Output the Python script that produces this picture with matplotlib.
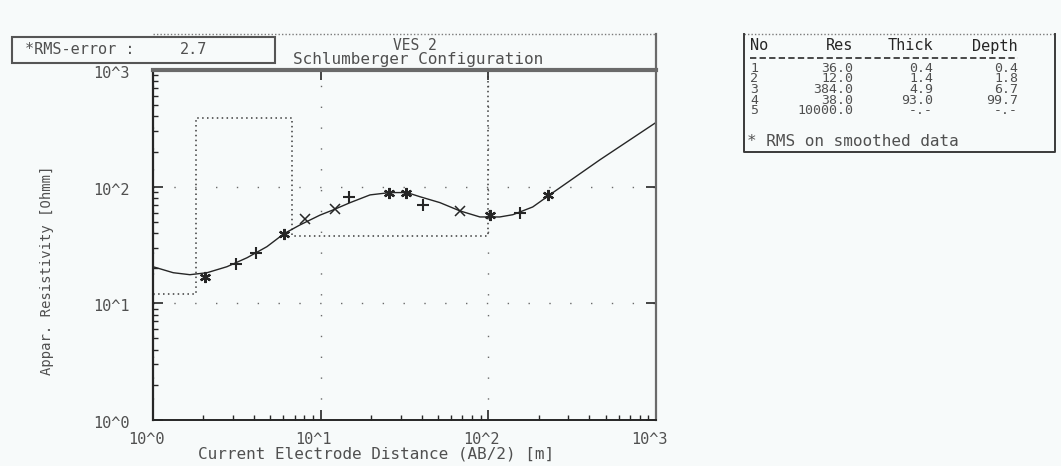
import numpy as np
import matplotlib
matplotlib.use("Agg")
import matplotlib.pyplot as plt
from matplotlib.lines import Line2D
from matplotlib.patches import Rectangle
from matplotlib.transforms import ScaledTranslation

# model curve (AB/2 in m, apparent resistivity in Ohmm)
curve_ab = [1.0, 1.32, 1.66, 2.10, 2.76, 3.64, 4.78, 6.04, 7.53, 9.9, 11.8, 15.0,
            19.7, 25.9, 32.7, 39.1, 51.4, 67.7, 89.1, 117, 140, 184, 243, 463, 728, 1000]
curve_rho = [20.6, 18.3, 17.6, 18.3, 20.6, 24.6, 30.6, 39.5, 47, 57, 63, 73,
             85, 89, 89, 82, 73, 62, 55, 55, 57.5, 67, 89, 170, 262, 355]

# field data
obs_ab = [2.04, 3.13, 4.11, 6.04, 8.06, 12.2, 14.8, 25.5, 32.3, 40.7, 67.7, 102, 154, 226]
obs_rho = [16.9, 21.8, 27.1, 39.5, 53, 64.6, 82, 88.8, 88.8, 70, 62.2, 57.5, 59.8, 85.5]
obs_sym = ['*', '+', '+', '*', 'x', 'x', '+', '*', '*', '+', 'x', '*', '+', '*']

# layered model
layer_no = [1, 2, 3, 4, 5]
layer_res = [36.0, 12.0, 384.0, 38.0, 10000.0]
layer_thick = [0.4, 1.4, 4.9, 93.0]
layer_depth = [0.4, 1.8, 6.7, 99.7]

rms_error = 2.7
tick_vals = [1, 10, 100, 1000]
tick_text = ['10^0', '10^1', '10^2', '10^3']

W, H = 1061, 466
MONO = 'DejaVu Sans Mono'
TXT = '#505050'
INK = '#262626'


def fx(x):
    return x / W


def fy(y):
    return 1 - y / H


fig = plt.figure(figsize=(W / 100, H / 100), dpi=100, facecolor='#f7fafa')
ax = fig.add_axes([fx(153), fy(420), (656 - 153) / W, (420 - 70) / H])
ax.set_facecolor('#f7fafa')
ax.set_xscale('log')
ax.set_yscale('log')
ax.set_xlim(1, 1000)
ax.set_ylim(1, 1000)

# step line of the layered model
sx, sy = [0.1], [layer_res[0]]
for d, r0, r1 in zip(layer_depth, layer_res[:-1], layer_res[1:]):
    sx += [d, d]
    sy += [r0, r1]
sx.append(1e5)
sy.append(layer_res[-1])
ax.plot(sx, sy, color='#3a3a3a', lw=1.1, ls=(0, (1, 2.2)))

ax.plot(curve_ab, curve_rho, color=INK, lw=1.0)

mk = {'*': dict(marker=(6, 2, 0), ms=8, mew=1.6),
      '+': dict(marker='+', ms=9, mew=1.5),
      'x': dict(marker='x', ms=7, mew=1.1)}
for s in ['*', '+', 'x']:
    xs = [a for a, m in zip(obs_ab, obs_sym) if m == s]
    ys = [r for r, m in zip(obs_rho, obs_sym) if m == s]
    ax.plot(xs, ys, ls='none', color=INK, **mk[s])

ax.grid(which='major', color='#6a6a6a', lw=1.0, ls=(0, (1, 14)))

ax.set_xticks(tick_vals)
ax.set_xticklabels(tick_text)
ax.set_yticks(tick_vals)
ax.set_yticklabels(tick_text)
ax.xaxis.set_minor_locator(matplotlib.ticker.LogLocator(subs=np.arange(2, 10)))
ax.yaxis.set_minor_locator(matplotlib.ticker.LogLocator(subs=np.arange(2, 10)))
ax.xaxis.set_minor_formatter(matplotlib.ticker.NullFormatter())
ax.yaxis.set_minor_formatter(matplotlib.ticker.NullFormatter())
ax.tick_params(which='both', direction='in', color=INK, labelcolor=TXT)
ax.tick_params(which='major', length=7, width=1.2, top=True, right=True)
ax.tick_params(which='minor', length=3.5, width=1.0, top=False, right=False)
ax.tick_params(axis='x', pad=9)
ax.tick_params(axis='y', pad=17)
for lab in ax.get_xticklabels() + ax.get_yticklabels():
    lab.set_fontfamily(MONO)
    lab.set_fontsize(11)
for lab in ax.get_xticklabels():
    lab.set_transform(lab.get_transform() + ScaledTranslation(-0.07, 0, fig.dpi_scale_trans))
for lab in ax.get_yticklabels():
    lab.set_transform(lab.get_transform() + ScaledTranslation(0, -0.02, fig.dpi_scale_trans))

ax.spines['left'].set_color(INK)
ax.spines['left'].set_linewidth(1.6)
ax.spines['bottom'].set_color(INK)
ax.spines['bottom'].set_linewidth(1.4)
ax.spines['top'].set_color('#6a6a6a')
ax.spines['top'].set_linewidth(3.0)
ax.spines['right'].set_color('#6a6a6a')
ax.spines['right'].set_linewidth(1.6)

fig.text(fx(47), fy(270), 'Appar. Resistivity [Ohmm]', rotation=90, ha='center', va='center',
         family=MONO, fontsize=10, color=TXT)
fig.text(fx(376), fy(454), 'Current Electrode Distance (AB/2) [m]', ha='center', va='center',
         family=MONO, fontsize=11.5, color=TXT)

# header band above the plot
fig.add_artist(Line2D([fx(153), fx(656)], [fy(34), fy(34)], transform=fig.transFigure,
                      color='#7a7a7a', lw=1.0, ls=(0, (1, 1.5))))
fig.add_artist(Line2D([fx(656), fx(656)], [fy(34), fy(70)], transform=fig.transFigure,
                      color='#6a6a6a', lw=1.6))
fig.text(fx(415), fy(45), 'VES 2', ha='center', va='center', family=MONO, fontsize=10.5, color=TXT)
fig.text(fx(418), fy(60), 'Schlumberger Configuration', ha='center', va='center',
         family=MONO, fontsize=11.5, color=TXT)

# rms box
fig.add_artist(Rectangle((fx(12), fy(63)), (275 - 12) / W, (63 - 37) / H, transform=fig.transFigure,
                         facecolor='#f7fafa', edgecolor='#555555', lw=1.5))
fig.text(fx(25), fy(50), '*RMS-error :', ha='left', va='center', family=MONO, fontsize=11, color=TXT)
fig.text(fx(180), fy(50), f'{rms_error:.1f}', ha='left', va='center', family=MONO, fontsize=11, color=TXT)

# model table
tl, tr, tt, tb = 744, 1055, 34, 152
fig.add_artist(Line2D([fx(tl), fx(tr)], [fy(tt), fy(tt)], transform=fig.transFigure,
                      color='#7a7a7a', lw=1.0, ls=(0, (1, 1.5))))
fig.add_artist(Line2D([fx(tl), fx(tl), fx(tr), fx(tr)], [fy(tt), fy(tb), fy(tb), fy(tt)],
                      transform=fig.transFigure, color='#3a3a3a', lw=1.4))
col_right = [853, 933, 1018]
fig.text(fx(750), fy(46), 'No', ha='left', va='center', family=MONO, fontsize=11, color=INK)
for name, xr in zip(['Res', 'Thick', 'Depth'], col_right):
    fig.text(fx(xr), fy(46), name, ha='right', va='center', family=MONO, fontsize=11, color=INK)
fig.add_artist(Line2D([fx(750), fx(1018)], [fy(58), fy(58)], transform=fig.transFigure,
                      color='#3a3a3a', lw=1.3, ls=(0, (3.5, 1.8))))
row_y = [68.5, 79, 89.5, 100, 110.5]
for i, n in enumerate(layer_no):
    cells = [f'{layer_res[i]:.1f}',
             f'{layer_thick[i]:.1f}' if i < len(layer_thick) else '-.-',
             f'{layer_depth[i]:.1f}' if i < len(layer_depth) else '-.-']
    fig.text(fx(750), fy(row_y[i]), str(n), ha='left', va='center', family=MONO, fontsize=9.5, color=TXT)
    for c, xr in zip(cells, col_right):
        fig.text(fx(xr), fy(row_y[i]), c, ha='right', va='center', family=MONO, fontsize=9.5, color=TXT)
fig.text(fx(747), fy(141), '* RMS on smoothed data', ha='left', va='center', family=MONO,
         fontsize=11.5, color=TXT)

fig.savefig('out.png', dpi=100, facecolor=fig.get_facecolor())
